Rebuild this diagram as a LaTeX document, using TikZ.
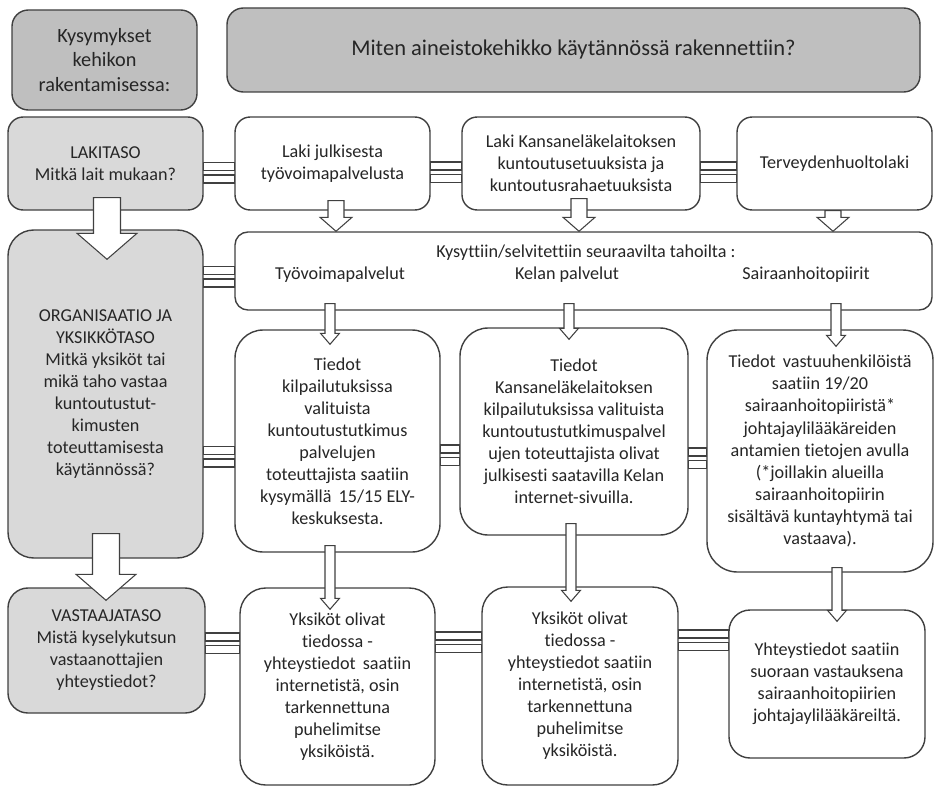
\documentclass[tikz,border=0pt]{standalone}
\usepackage{fontspec}
\setmainfont{Carlito}[Ligatures=NoCommon]
\usetikzlibrary{calc}

\definecolor{headgray}{HTML}{BFBFBF}
\definecolor{levelgray}{HTML}{D9D9D9}
\definecolor{edgegray}{HTML}{404040}

\newcommand{\boxfont}{\fontsize{15.5}{18.8}\selectfont}
\newcommand{\headfont}{\fontsize{17.3}{21.3}\selectfont}
\newcommand{\titlefont}{\fontsize{19.2}{23}\selectfont}

% size of the block arrows: shaft half width, head half width, head length (px)
\newcommand{\arrowsize}[3]{\def\shaftw{#1}\def\headw{#2}\def\headl{#3}}
% block arrow down: from, to, x, start inside source, tip inside target
\newcommand{\blockdown}[5]{%
  \draw[blockarrow]
    ($({#3-\shaftw},0 |- #1.south)+(0,-#4)$)
    -- ($({#3-\shaftw},0 |- #2.north)+(0,{#5-\headl})$)
    -- ($({#3-\headw},0 |- #2.north)+(0,{#5-\headl})$)
    -- ($(#3,0 |- #2.north)+(0,#5)$)
    -- ($({#3+\headw},0 |- #2.north)+(0,{#5-\headl})$)
    -- ($({#3+\shaftw},0 |- #2.north)+(0,{#5-\headl})$)
    -- ($({#3+\shaftw},0 |- #1.south)+(0,-#4)$) -- cycle;}
% double bar link: left node, right node, top of upper bar (px)
\newcommand{\eqlink}[3]{%
  \draw[eqbar] (#1.east |- 0,#3) rectangle (#2.west |- 0,{#3+8});
  \draw[eqbar] (#1.east |- 0,{#3+12.5}) rectangle (#2.west |- 0,{#3+20.5});}

\tikzset{
  box/.style={draw=edgegray, line width=1.2pt, fill=white, rounded corners=13pt,
    align=center, inner sep=0pt, text=black!85, font=\boxfont},
  headbox/.style={box, fill=headgray, font=\headfont, rounded corners=14pt},
  levelbox/.style={box, fill=levelgray},
  wh/.style 2 args={minimum width=#1*0.03cm, minimum height=#2*0.03cm},
  lbl/.style={text=black!85, font=\boxfont, inner sep=0pt},
  blockarrow/.style={draw=edgegray, line width=0.9pt, fill=white},
  eqbar/.style={draw=edgegray, line width=0.9pt, fill=white}
}

\begin{document}
\begin{tikzpicture}[x=0.03cm, y=-0.03cm]
\useasboundingbox (0,0) rectangle (936,788);

% header
\node[headbox, wh={185}{100}] (qhead) at (104.5,60) {Kysymykset\\kehikon\\rakentamisessa:};
\node[headbox, wh={693}{84}, font=\titlefont] (title) at (573.5,50) {Miten aineistokehikko käytännössä rakennettiin?};

% law level
\node[levelbox, wh={195}{93}] (lawlevel) at (105.5,163.5) {LAKITASO\\Mitkä lait mukaan?};
\node[box, wh={195}{93}] (lawtyo) at (332.5,163.5) {Laki julkisesta\\työvoimapalvelusta};
\node[box, wh={238}{93}] (lawkela) at (581,163.5) {Laki Kansaneläkelaitoksen\\kuntoutusetuuksista ja\\kuntoutusrahaetuuksista};
\node[box, wh={195}{93}] (lawterv) at (834.5,163.5) {Terveydenhuoltolaki};

% organisation level
\node[levelbox, wh={195}{328}, rounded corners=22pt] (orglevel) at (105.5,394)
  {ORGANISAATIO JA\\YKSIKKÖTASO\\Mitkä yksiköt tai\\mikä taho vastaa\\kuntoutustut-\\kimusten\\toteuttamisesta\\käytännössä?};
\node[box, wh={697}{78}, rounded corners=11pt] (asked) at (583.5,271) {};
\node[lbl] (askedq) at (586,253) {Kysyttiin/selvitettiin seuraavilta tahoilta :};
\node[lbl] (askedtyo) at (340,275) {Työvoimapalvelut};
\node[lbl] (askedkela) at (567,275) {Kelan palvelut};
\node[lbl] (askedshp) at (806,275) {Sairaanhoitopiirit};

\node[box, wh={205}{222}, rounded corners=24pt] (infotyo) at (337.5,441)
  {Tiedot\\kilpailutuksissa\\valituista\\kuntoutustutkimus\\palvelujen\\toteuttajista saatiin\\kysymällä\, 15/15 ELY-\\keskuksesta.};
\node[box, wh={228}{207}, rounded corners=24pt] (infokela) at (574,431.5)
  {Tiedot\\Kansaneläkelaitoksen\\kilpailutuksissa valituista\\kuntoutustutkimuspalvel\\ujen toteuttajista olivat\\julkisesti saatavilla Kelan\\internet-sivuilla.};
\node[box, wh={226}{242}, rounded corners=26pt] (infoshp) at (820,451)
  {Tiedot\, vastuuhenkilöistä\\saatiin 19/20\\sairaanhoitopiiristä*\\johtajaylilääkäreiden\\antamien tietojen avulla\\(*joillakin alueilla\\sairaanhoitopiirin\\sisältävä kuntayhtymä tai\\vastaava).};

% respondent level
\node[levelbox, wh={197}{125}, rounded corners=17pt] (resplevel) at (106.5,650.5)
  {VASTAAJATASO\\Mistä kyselykutsun\\vastaanottajien\\yhteystiedot?};
\node[box, wh={195}{197}, rounded corners=22pt] (conttyo) at (337.5,686.5)
  {Yksiköt olivat\\tiedossa -\\yhteystiedot\, saatiin\\internetistä, osin\\tarkennettuna\\puhelimitse\\yksiköistä.};
\node[box, wh={196}{198}, rounded corners=22pt] (contkela) at (580,686)
  {Yksiköt olivat\\tiedossa -\\yhteystiedot saatiin\\internetistä, osin\\tarkennettuna\\puhelimitse\\yksiköistä.};
\node[box, wh={196}{148}, rounded corners=18pt] (contshp) at (827,684)
  {Yhteystiedot saatiin\\suoraan vastauksena\\sairaanhoitopiirien\\johtajaylilääkäreiltä.};

% double bars
\eqlink{lawlevel}{lawtyo}{162.5}
\eqlink{lawtyo}{lawkela}{162}
\eqlink{lawkela}{lawterv}{162}
\eqlink{orglevel}{asked}{266.5}
\eqlink{orglevel}{infotyo}{446.5}
\eqlink{infotyo}{infokela}{445}
\eqlink{infokela}{infoshp}{448}
\eqlink{resplevel}{conttyo}{633}
\eqlink{conttyo}{contkela}{632}
\eqlink{contkela}{contshp}{630}

% big arrows
\arrowsize{13.5}{30}{26}
\blockdown{lawlevel}{orglevel}{107}{13}{30}
\blockdown{orglevel}{resplevel}{106}{25}{13}

% law arrows
\arrowsize{8}{16}{14}
\blockdown{lawtyo}{asked}{336}{10}{0}
\blockdown{lawkela}{asked}{579}{12}{0}
\blockdown{lawterv}{asked}{833}{0}{0}

% thin arrows
\arrowsize{5}{9.5}{11}
\blockdown{asked}{infotyo}{330}{7}{15}
\blockdown{asked}{infokela}{569}{7}{12}
\blockdown{asked}{infoshp}{836}{7}{17}
\blockdown{infotyo}{conttyo}{330}{7}{22}
\blockdown{infokela}{contkela}{571}{12}{15}
\blockdown{infoshp}{contshp}{837}{5}{12}

\end{tikzpicture}
\end{document}
